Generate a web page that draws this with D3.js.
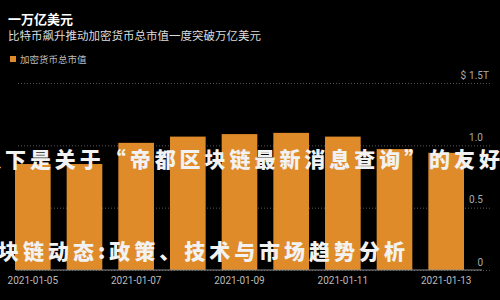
<!DOCTYPE html>
<html>
<head>
<meta charset="utf-8">
<script src="https://cdn.jsdelivr.net/npm/d3@7"></script>
<style>
  body { margin: 0; background: #000; }
  svg { display: block; font-family: "Noto Sans CJK SC", sans-serif; }
</style>
</head>
<body>
<div id="chart"></div>
<script>
// chart data
var dates = ["2021-01-05", "2021-01-06", "2021-01-07", "2021-01-08", "2021-01-09",
             "2021-01-10", "2021-01-11", "2021-01-12", "2021-01-13"];
var marketCap = [0.85, 0.85, 1.02, 1.07, 1.09, 1.10, 1.07, 0.97, 0.94]; // trillion USD
var xTicks = ["2021-01-05", "2021-01-07", "2021-01-09", "2021-01-11", "2021-01-13"];
var yTicks = [0, 0.5, 1.0, 1.5];

var title = "一万亿美元";
var subtitle = "比特币飙升推动加密货币总市值一度突破万亿美元";
var legendLabel = "加密货币总市值";
var overlay1 = "以下是关于“帝都区块链最新消息查询”的友好";
var overlay2 = "区块链动态:政策、技术与市场趋势分析";

var width = 500, height = 300;
// note: "top" is taken by window.top, so plot edges get their own names
var plotLeft = 16, plotRight = 490, plotBottom = 270, plotTop = 83;

var svg = d3.select("#chart").append("svg")
  .attr("width", width)
  .attr("height", height);

svg.append("rect").attr("width", width).attr("height", height).attr("fill", "#000");

var x = d3.scaleBand()
  .domain(dates)
  .range([15, 464])
  .paddingInner(0.31)
  .paddingOuter(0);

var y = d3.scaleLinear()
  .domain([0, 1.5])
  .range([plotBottom, plotTop]);

// gridlines + right labels
var yAxis = svg.append("g")
  .attr("transform", "translate(" + plotRight + ",0)")
  .call(d3.axisRight(y).tickValues(yTicks).tickSize(-(plotRight - plotLeft)));
yAxis.select(".domain").remove();
yAxis.selectAll(".tick line")
  .attr("stroke", "#555")
  .attr("stroke-dasharray", "1,2");
yAxis.selectAll(".tick text")
  .attr("x", -7)
  .attr("dy", -5)
  .attr("text-anchor", "end")
  .attr("fill", "#aaa")
  .style("font-family", "Roboto, sans-serif")
  .style("font-size", "10px")
  .text(function (d) { return d === 0 ? "0" : d3.format(".1f")(d); });

// prefix / suffix on the top tick
yAxis.selectAll(".tick text").each(function (d) {
  if (d === 1.5) {
    var w = this.getComputedTextLength();
    var g = d3.select(this.parentNode);
    g.append("text").attr("x", -7).attr("dy", -5).attr("text-anchor", "start")
      .attr("fill", "#aaa").style("font-family", "Roboto, sans-serif").style("font-size", "10px")
      .text("T");
    g.append("text").attr("x", -7 - w - 3).attr("dy", -5).attr("text-anchor", "end")
      .attr("fill", "#aaa").style("font-family", "Roboto, sans-serif").style("font-size", "10px")
      .text("$");
  }
});

// bars
svg.selectAll("rect.bar")
  .data(marketCap)
  .enter()
  .append("rect")
  .attr("class", "bar")
  .attr("x", function (d, i) { return x(dates[i]); })
  .attr("y", function (d) { return y(d); })
  .attr("width", x.bandwidth())
  .attr("height", function (d) { return y(0) - y(d); })
  .attr("fill", "#e08b2a");

// baseline
svg.append("line")
  .attr("x1", plotLeft).attr("x2", 482)
  .attr("y1", y(0)).attr("y2", y(0))
  .attr("stroke", "#888");

// x axis
var xAxis = svg.append("g")
  .attr("transform", "translate(0," + plotBottom + ")")
  .call(d3.axisBottom(x).tickValues(xTicks).tickSize(0).tickPadding(7));
xAxis.select(".domain").remove();
xAxis.selectAll("text")
  .attr("fill", "#bbb")
  .style("font-family", "Roboto, sans-serif")
  .style("font-size", "10px");

// titles
svg.append("text").attr("x", 8).attr("y", 24)
  .attr("fill", "#fff").style("font-size", "13px").style("font-weight", "bold")
  .text(title);
svg.append("text").attr("x", 8).attr("y", 40)
  .attr("fill", "#ddd").style("font-size", "11.5px")
  .text(subtitle);

// legend
svg.append("rect").attr("x", 10).attr("y", 56).attr("width", 6).attr("height", 6).attr("fill", "#e08b2a");
svg.append("text").attr("x", 20).attr("y", 63)
  .attr("fill", "#bbb").style("font-size", "9.5px")
  .text(legendLabel);

// overlay texts
svg.append("text").attr("x", -20).attr("y", 167)
  .attr("textLength", 520).attr("lengthAdjust", "spacing")
  .attr("fill", "#f2f2f2").style("font-size", "21px").style("font-weight", "900")
  .text(overlay1);
svg.append("text").attr("x", -27).attr("y", 259)
  .attr("textLength", 432).attr("lengthAdjust", "spacing")
  .attr("fill", "#f2f2f2").style("font-size", "21px").style("font-weight", "900")
  .text(overlay2);
</script>
</body>
</html>
